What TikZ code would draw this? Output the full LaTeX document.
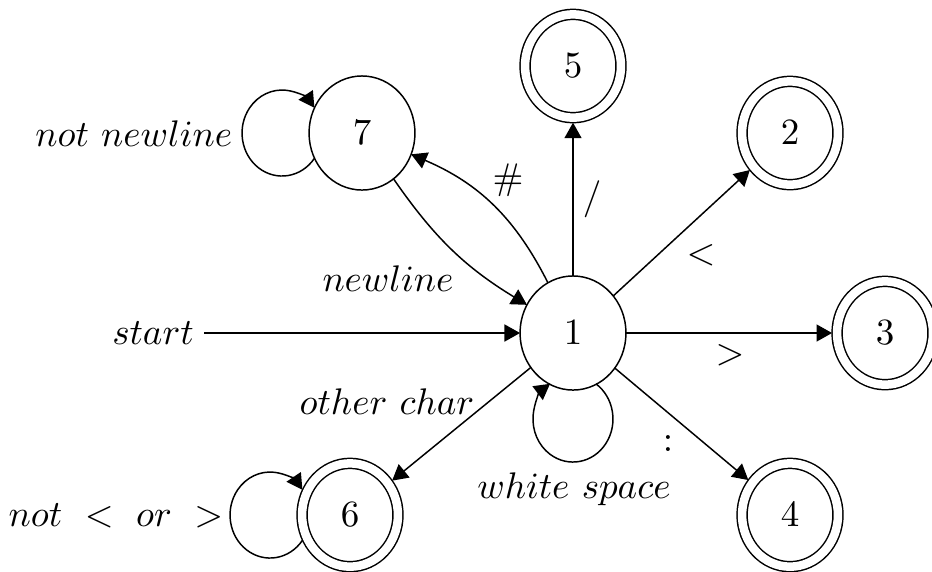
\documentclass[tikz,border=0pt]{standalone}
\usetikzlibrary{arrows.meta,shapes.geometric}
\begin{document}
\begin{tikzpicture}[x=0.27pt,y=0.27pt,
  st/.style={ellipse,draw,inner sep=0pt,outer sep=0pt,minimum width=28.6pt,minimum height=30.8pt},
  acc/.style={ellipse,draw,double,double distance=2.3pt,inner sep=0pt,outer sep=1.35pt,minimum width=25.9pt,minimum height=27.9pt},
  lbl/.style={inner sep=0pt},
  tr/.style={-{Triangle[length=4.2pt,width=4.6pt]}},
]
\useasboundingbox (0,0) rectangle (932,571);
% states
\node[st] (n1) at (573,238) {$1$};
\node[st] (n7) at (362,438) {$7$};
\node[acc] (n5) at (573,505) {$5$};
\node[acc] (n2) at (790,438) {$2$};
\node[acc] (n3) at (885,238) {$3$};
\node[acc] (n4) at (790,56) {$4$};
\node[acc] (n6) at (350,56) {$6$};
% labels
\node[lbl,anchor=east] (lnn) at (233,437) {$not\ newline$};
\node[lbl,inner xsep=2.7pt] (start) at (153,238) {$start$};
\node[lbl] (lnl) at (388,292) {$newline$};
\node[lbl] (loc) at (387,169) {$other\ char$};
\node[lbl] (lws) at (574,82) {$white\ space$};
\node[lbl] (lno) at (116,55) {$not\ <\ or\ >$};
\node[lbl] (lh) at (508,391) {$\#$};
\node[lbl] (ls) at (592,372) {$/$};
\node[lbl] (llt) at (701,316) {$<$};
\node[lbl] (lgt) at (730,216) {$>$};
\node[lbl] (lc) at (668,127) {$:$};
% transitions
\draw[tr] (start) -- (n1);
\draw[tr] (n1) to[bend right=20] (n7);
\draw[tr] (n7) to[bend right=12] (n1);
\draw[tr] (n1) -- (n5);
\draw[tr] (n1) -- (n2);
\draw[tr] (n1) -- (n3);
\draw[tr] (n1) -- (n4);
\draw[tr] (n1) -- (n6);
% loops
\draw[tr] ([shift={(-47.6,-25.3)}]n7.center) arc[start angle=-36,end angle=-324,x radius=40,y radius=43];
\draw[tr] ([shift={(-47.6,-25.3)}]n6.center) arc[start angle=-36,end angle=-324,x radius=40,y radius=43];
\draw[tr] ([shift={(22.9,-50.8)}]n1.center) arc[start angle=55,end angle=-235,x radius=40,y radius=43];
\end{tikzpicture}
\end{document}
